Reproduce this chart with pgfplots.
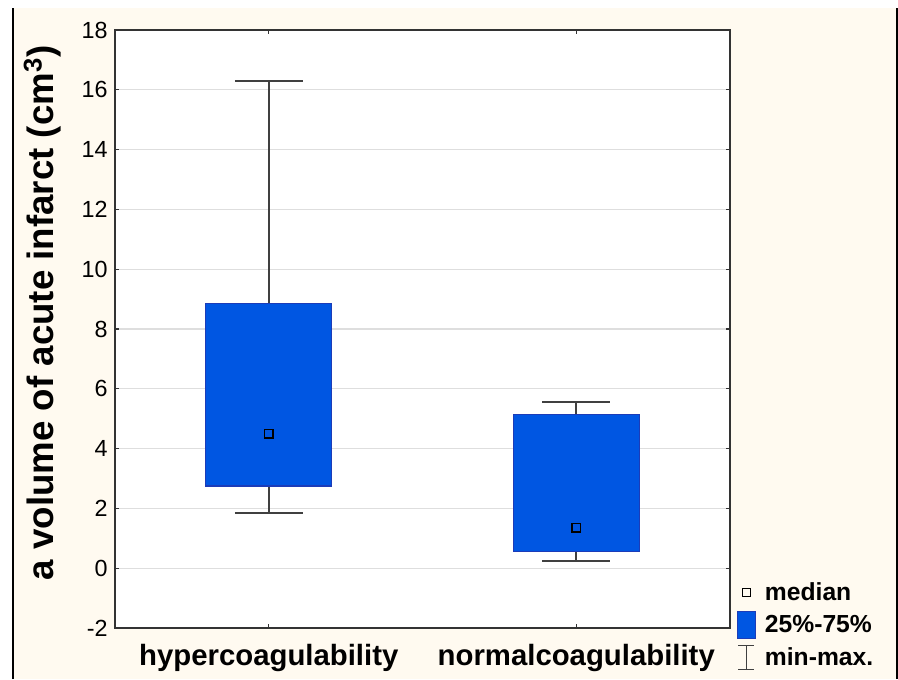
\documentclass[border=0pt]{standalone}
\usepackage{pgfplots}
\pgfplotsset{compat=1.18}
\usepgfplotslibrary{statistics}
\usepackage{fontspec}
\setmainfont{Liberation Sans}
\definecolor{bg}{HTML}{FFFAF0}
\definecolor{boxblue}{HTML}{0056E2}
\definecolor{boxedge}{HTML}{1C3CB8}
\definecolor{whisk}{HTML}{404040}
\begin{document}
\begin{tikzpicture}
\path[use as bounding box] (0pt,0pt) rectangle (673.5pt,509.25pt);
\fill[white] (0pt,0pt) rectangle (673.5pt,509.25pt);
\fill[bg] (9pt,0pt) rectangle (673.5pt,503.25pt);
\draw[black, line width=1.2pt] (9.6pt,0pt) -- (9.6pt,503.25pt);
\draw[black, line width=1.2pt] (672.6pt,0pt) -- (672.6pt,503.25pt);
\begin{axis}[
  at={(86.25pt,38.25pt)}, anchor=south west,
  scale only axis, width=461.25pt, height=448.5pt,
  xmin=0.5, xmax=2.5, ymin=-2, ymax=18,
  ytick={-2,0,...,18},
  xtick={1,2}, xticklabels={hypercoagulability,normalcoagulability},
  ymajorgrids, grid style={black!13, line width=1pt},
  axis background/.style={fill=white},
  axis line style={line width=1.1pt, black!80},
  tick style={black!80, line width=0.8pt},
  major tick length=3pt, tick align=inside,
  /pgf/number format/assume math mode=true,
  yticklabel style={font=\fontsize{17.5}{17.5}\selectfont, xshift=-2pt},
  xticklabel style={font=\bfseries\fontsize{22}{22}\selectfont, yshift=-9pt},
  ylabel={a volume of acute infarct (cm\textsuperscript{3})},
  ylabel style={font=\bfseries\fontsize{27.5}{27.5}\selectfont, yshift=8.5pt, xshift=12pt},
  boxplot/draw direction=y,
  boxplot/every whisker/.style={whisk, line width=1.2pt},
  boxplot/every box/.style={fill=boxblue, draw=boxedge, line width=1pt},
  boxplot/draw/median/.code={},
  legend style={at={(1.008,0.083)}, anchor=north west, draw=none, fill=none,
    font=\bfseries\fontsize{18.5}{18.5}\selectfont, row sep=4.5pt, column sep=5pt, inner sep=1pt},
  legend cell align=left,
]
\addplot[forget plot, boxplot prepared={draw position=1, lower whisker=1.85, lower quartile=2.75, median=4.5, upper quartile=8.85, upper whisker=16.3, box extend=0.41, whisker extend=0.22}] coordinates {};
\addplot[forget plot, boxplot prepared={draw position=2, lower whisker=0.25, lower quartile=0.55, median=1.35, upper quartile=5.15, upper whisker=5.55, box extend=0.41, whisker extend=0.22}] coordinates {};
\addplot[forget plot, only marks, mark=square, mark size=3.2pt, black, line width=1pt] coordinates {(1,4.5) (2,1.35)};
\addlegendimage{legend image code/.code={\draw[black, line width=0.8pt] (4pt,-3pt) rectangle (10pt,3pt);}}
\addlegendentry{median}
\addlegendimage{legend image code/.code={\draw[fill=boxblue, draw=boxedge, line width=0.8pt] (0pt,-10pt) rectangle (13.5pt,10pt);}}
\addlegendentry{25\%-75\%}
\addlegendimage{legend image code/.code={\draw[whisk, line width=1pt] (1pt,-9pt) -- (13pt,-9pt) (7pt,-9pt) -- (7pt,9pt) (1pt,9pt) -- (13pt,9pt);}}
\addlegendentry{min-max.}
\end{axis}
\end{tikzpicture}
\end{document}
